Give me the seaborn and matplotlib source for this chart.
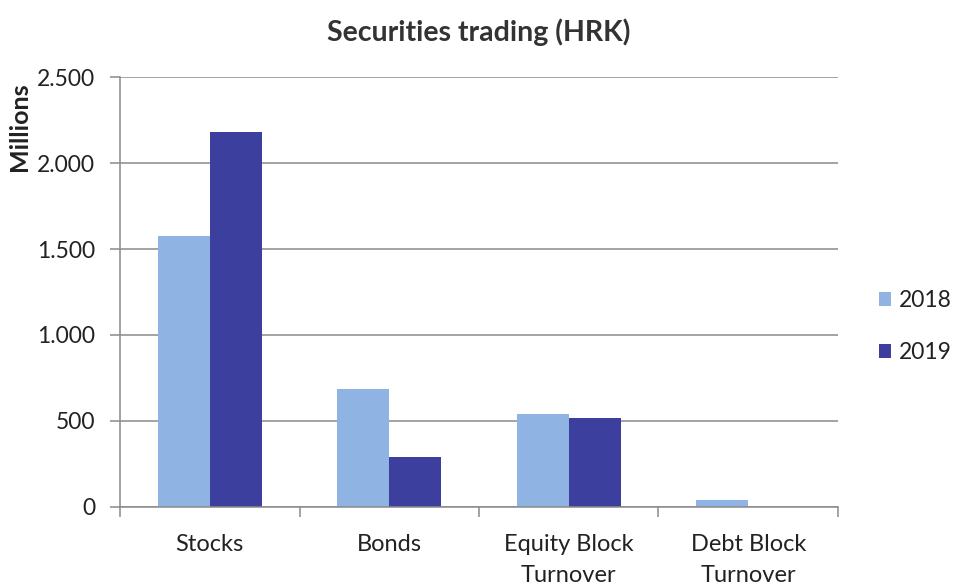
import matplotlib
matplotlib.use("Agg")
import matplotlib.pyplot as plt
import seaborn as sns
import pandas as pd

categories = ["Stocks", "Bonds", "Equity Block\nTurnover", "Debt Block\nTurnover"]
years = ["2018", "2019"]
values_2018 = [1575, 685, 538, 42]
values_2019 = [2180, 290, 520, 0]
y_ticks = [0, 500, 1000, 1500, 2000, 2500]
y_tick_labels = ["0", "500", "1.000", "1.500", "2.000", "2.500"]

df = pd.DataFrame({
    "category": categories * 2,
    "year": [years[0]] * len(categories) + [years[1]] * len(categories),
    "value": values_2018 + values_2019,
})

sns.set_theme(style="white")
plt.rcParams["font.family"] = ["Lato", "DejaVu Sans"]

fig = plt.figure(figsize=(9.58, 5.88), dpi=100)
ax = fig.add_axes([0.1253, 0.1378, 0.7494, 0.7312])

palette = {"2018": "#8FB4E3", "2019": "#3D3F9E"}
sns.barplot(data=df, x="category", y="value", hue="year", order=categories,
            hue_order=years, palette=palette, width=0.58, saturation=1,
            linewidth=0, ax=ax)

fs = 16.5
ax.set_ylim(0, 2500)
ax.set_xlim(-0.5, len(categories) - 0.5)
ax.set_yticks(y_ticks)
ax.set_yticklabels(y_tick_labels, fontsize=fs, color="#222222")
ax.yaxis.grid(True, color="#8a8a8a", linewidth=1.1)
ax.set_axisbelow(True)

# category labels without tick marks; tick marks at category boundaries
ax.set_xticks(range(len(categories)))
ax.set_xticklabels(categories, fontsize=17, color="#222222", linespacing=1.6)
ax.set_xticks([i - 0.5 for i in range(len(categories) + 1)], minor=True)
ax.tick_params(axis="x", which="major", length=0, pad=19.5)
ax.tick_params(axis="x", which="minor", length=7, width=1.1, color="#8a8a8a", direction="out", bottom=True)
ax.tick_params(axis="y", length=7, width=1.1, color="#8a8a8a", direction="out", left=True, pad=11)

for side in ["top", "right"]:
    ax.spines[side].set_visible(False)
for side in ["left", "bottom"]:
    ax.spines[side].set_color("#8a8a8a")
    ax.spines[side].set_linewidth(1.1)

ax.set_xlabel("")
ax.set_ylabel("Millions", fontsize=18, fontweight="bold", color="#222222", va="center")
ax.yaxis.set_label_coords(-0.14, 0.884)
ax.set_title("Securities trading (HRK)", fontsize=20.5, fontweight="bold", color="#333333", pad=26)

leg = ax.legend(loc="center left", bbox_to_anchor=(1.028, 0.42), frameon=False,
                fontsize=fs, handlelength=0.55, handleheight=0.55, handletextpad=0.35,
                labelspacing=1.35)
for t in leg.get_texts():
    t.set_color("#222222")

fig.savefig("out.png", dpi=100, facecolor="white")
